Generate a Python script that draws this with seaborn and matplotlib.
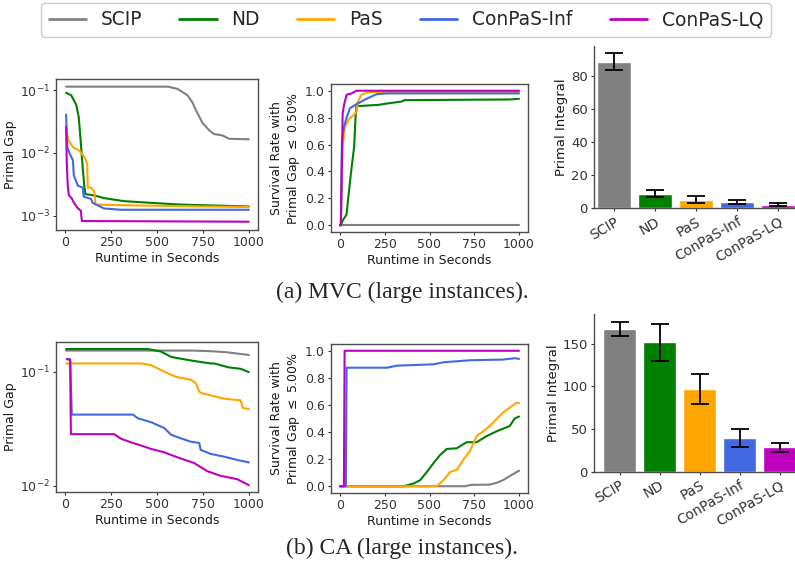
import numpy as np
import pandas as pd
import matplotlib
matplotlib.use("Agg")
import matplotlib.pyplot as plt
from matplotlib.lines import Line2D
from matplotlib.ticker import NullLocator
import seaborn as sns

# ---------------- data ----------------
METHODS = ["SCIP", "ND", "PaS", "ConPaS-Inf", "ConPaS-LQ"]
COLORS = ["#808080", "#008000", "#FFA500", "#4169E1", "#BF00BF"]

# (a) MVC primal gap
MVC_GAP_SCIP_T = [5, 560, 612, 666, 694, 712, 748, 784, 810, 857, 893, 1000]
MVC_GAP_SCIP_Y = [0.114, 0.114, 0.105, 0.083, 0.063, 0.048, 0.030, 0.023, 0.020, 0.019, 0.0168, 0.0165]
MVC_GAP_ND_T = [5, 33, 60, 74, 87, 96, 105, 110, 159, 213, 322, 467, 630, 1000]
MVC_GAP_ND_Y = [0.091, 0.083, 0.059, 0.037, 0.0124, 0.0055, 0.0028, 0.0022, 0.0021, 0.0019, 0.0017, 0.0016, 0.0015, 0.0014]
MVC_GAP_PAS_T = [5, 18, 42, 78, 105, 120, 123, 141, 159, 165, 400, 1000]
MVC_GAP_PAS_Y = [0.024, 0.016, 0.0124, 0.0108, 0.0086, 0.0068, 0.0028, 0.0028, 0.0024, 0.0015, 0.00145, 0.00137]
MVC_GAP_INF_T = [5, 11, 23, 42, 47, 69, 96, 101, 141, 150, 195, 213, 304, 1000]
MVC_GAP_INF_Y = [0.041, 0.0124, 0.0101, 0.0076, 0.0044, 0.0030, 0.0028, 0.0020, 0.00185, 0.0016, 0.00137, 0.0013, 0.00124, 0.00124]
MVC_GAP_LQ_T = [5, 9, 14, 20, 35, 48, 70, 85, 91, 1000]
MVC_GAP_LQ_Y = [0.026, 0.0065, 0.0030, 0.0021, 0.0019, 0.0016, 0.0013, 0.0012, 0.00082, 0.0008]

# (a) MVC survival rate (gap <= 0.50%)
MVC_SR_SCIP_T = [0, 1000]
MVC_SR_SCIP_Y = [0.0, 0.0]
MVC_SR_ND_T = [0, 5, 15, 37, 46, 65, 79, 87, 92, 215, 263, 347, 360, 948, 1000]
MVC_SR_ND_Y = [0.0, 0.0, 0.035, 0.08, 0.2, 0.43, 0.58, 0.80, 0.885, 0.895, 0.905, 0.92, 0.93, 0.935, 0.94]
MVC_SR_PAS_T = [0, 5, 15, 28, 50, 78, 92, 101, 120, 148, 165, 1000]
MVC_SR_PAS_Y = [0.0, 0.0, 0.58, 0.73, 0.79, 0.82, 0.84, 0.92, 0.97, 0.985, 0.99, 0.99]
MVC_SR_INF_T = [0, 5, 11, 22, 37, 56, 92, 120, 148, 207, 263, 1000]
MVC_SR_INF_Y = [0.0, 0.0, 0.63, 0.73, 0.80, 0.87, 0.90, 0.92, 0.94, 0.975, 0.98, 0.98]
MVC_SR_LQ_T = [0, 5, 15, 22, 37, 65, 92, 1000]
MVC_SR_LQ_Y = [0.0, 0.0, 0.83, 0.89, 0.97, 0.98, 1.0, 1.0]

# (a) MVC primal integral
MVC_PI_MEAN = [88.1, 8.6, 5.0, 3.8, 2.0]
MVC_PI_LOW = [83.4, 6.8, 3.0, 2.4, 1.4]
MVC_PI_HIGH = [93.5, 11.0, 7.3, 4.8, 3.0]

# (b) CA primal gap
CA_GAP_SCIP_T = [5, 700, 800, 880, 1000]
CA_GAP_SCIP_Y = [0.153, 0.153, 0.151, 0.148, 0.140]
CA_GAP_ND_T = [5, 450, 522, 576, 594, 702, 792, 810, 891, 955, 1000]
CA_GAP_ND_Y = [0.158, 0.158, 0.150, 0.135, 0.133, 0.124, 0.118, 0.118, 0.109, 0.106, 0.099]
CA_GAP_PAS_T = [5, 413, 468, 540, 603, 684, 712, 730, 740, 792, 864, 955, 968, 1000]
CA_GAP_PAS_Y = [0.118, 0.118, 0.114, 0.100, 0.090, 0.085, 0.079, 0.067, 0.065, 0.062, 0.058, 0.056, 0.048, 0.047]
CA_GAP_INF_T = [9, 27, 36, 369, 396, 468, 540, 576, 630, 684, 730, 738, 792, 864, 937, 1000]
CA_GAP_INF_Y = [0.129, 0.128, 0.042, 0.042, 0.039, 0.036, 0.032, 0.028, 0.026, 0.0243, 0.0237, 0.0206, 0.019, 0.018, 0.0168, 0.016]
CA_GAP_LQ_T = [9, 27, 31, 267, 306, 358, 413, 468, 540, 612, 702, 774, 846, 937, 1000]
CA_GAP_LQ_Y = [0.129, 0.127, 0.0283, 0.0283, 0.0257, 0.024, 0.0225, 0.021, 0.0196, 0.0177, 0.0158, 0.0134, 0.0122, 0.0114, 0.0101]

# (b) CA survival rate (gap <= 5.00%)
CA_SR_SCIP_T = [0, 700, 730, 837, 874, 911, 948, 1000]
CA_SR_SCIP_Y = [0.0, 0.0, 0.01, 0.012, 0.025, 0.045, 0.075, 0.115]
CA_SR_ND_T = [0, 356, 411, 448, 485, 522, 559, 596, 652, 707, 763, 819, 874, 948, 976, 1000]
CA_SR_ND_Y = [0.0, 0.0, 0.02, 0.045, 0.105, 0.17, 0.23, 0.275, 0.28, 0.325, 0.325, 0.37, 0.405, 0.445, 0.50, 0.515]
CA_SR_PAS_T = [0, 541, 578, 615, 652, 689, 726, 763, 800, 837, 874, 911, 948, 985, 1000]
CA_SR_PAS_Y = [0.0, 0.0, 0.045, 0.105, 0.12, 0.195, 0.26, 0.37, 0.405, 0.445, 0.495, 0.545, 0.58, 0.615, 0.615]
CA_SR_INF_T = [0, 33, 37, 263, 319, 522, 578, 726, 911, 976, 1000]
CA_SR_INF_Y = [0.0, 0.0, 0.875, 0.875, 0.89, 0.90, 0.915, 0.93, 0.935, 0.945, 0.94]
CA_SR_LQ_T = [0, 22, 26, 1000]
CA_SR_LQ_Y = [0.0, 0.0, 1.0, 1.0]

# (b) CA primal integral
CA_PI_MEAN = [167.3, 152.0, 96.8, 39.6, 29.0]
CA_PI_LOW = [159.5, 130.0, 79.5, 29.0, 22.8]
CA_PI_HIGH = [175.9, 173.5, 114.0, 49.8, 34.0]

X_TICKS = [0, 250, 500, 750, 1000]
SR_TICKS = [0.0, 0.2, 0.4, 0.6, 0.8, 1.0]

# ---------------- style ----------------
sns.set_theme(style="ticks")
plt.rcParams.update({
    "font.family": ["DejaVu Sans"],
    "font.size": 9,
    "axes.labelsize": 9,
    "xtick.labelsize": 9,
    "ytick.labelsize": 9,
    "axes.edgecolor": "0.3",
    "axes.linewidth": 1.0,
    "xtick.color": "0.2",
    "ytick.color": "0.2",
    "xtick.major.size": 2.5,
    "ytick.major.size": 2.5,
    "xtick.major.width": 0.8,
    "ytick.major.width": 0.8,
    "axes.labelcolor": "0.1",
    "axes.labelpad": 2.0,
    "xtick.major.pad": 2.0,
    "ytick.major.pad": 2.0,
})

W, H = 795, 567
fig = plt.figure(figsize=(W / 100, H / 100), dpi=100)


def px_axes(left, top, right, bottom):
    return fig.add_axes([left / W, 1 - bottom / H, (right - left) / W, (bottom - top) / H])


def draw_lines(ax, series):
    for (t, y), c in zip(series, COLORS):
        sns.lineplot(x=t, y=y, ax=ax, color=c, lw=1.5, sort=False, estimator=None)
    ax.set_xlim(-50, 1050)
    ax.set_xticks(X_TICKS)
    ax.set_xlabel("Runtime in Seconds")


def draw_bars(ax, mean, low, high, xlim, yticks):
    df = pd.DataFrame({"method": METHODS, "value": mean})
    sns.barplot(data=df, x="method", y="value", hue="method", palette=COLORS,
                saturation=1, width=0.82, legend=False, ax=ax, errorbar=None)
    m = np.array(mean)
    yerr = [m - np.array(low), np.array(high) - m]
    ax.errorbar(np.arange(len(METHODS)), m, yerr=yerr, fmt="none", ecolor="black",
                elinewidth=1.3, capsize=6.5, capthick=1.3)
    ax.set_xlim(*xlim)
    ax.set_ylim(0, max(high) * 1.05)
    ax.set_yticks(yticks)
    ax.set_xlabel("")
    ax.set_ylabel("Primal Integral", fontsize=9.5)
    ax.tick_params(axis="y", labelsize=9.5)
    ax.tick_params(axis="x", labelrotation=30, labelsize=10)
    for lab in ax.get_xticklabels():
        lab.set_ha("right")
        lab.set_rotation_mode("anchor")
    sns.despine(ax=ax)


# ---- (a) MVC ----
ax1 = px_axes(56, 79, 258, 230)
draw_lines(ax1, [(MVC_GAP_SCIP_T, MVC_GAP_SCIP_Y), (MVC_GAP_ND_T, MVC_GAP_ND_Y),
                 (MVC_GAP_PAS_T, MVC_GAP_PAS_Y), (MVC_GAP_INF_T, MVC_GAP_INF_Y),
                 (MVC_GAP_LQ_T, MVC_GAP_LQ_Y)])
ax1.set_yscale("log")
ax1.set_ylim(0.00059, 0.151)
ax1.yaxis.set_minor_locator(NullLocator())
ax1.set_ylabel("Primal Gap")

ax2 = px_axes(331, 84, 528, 232)
draw_lines(ax2, [(MVC_SR_SCIP_T, MVC_SR_SCIP_Y), (MVC_SR_ND_T, MVC_SR_ND_Y),
                 (MVC_SR_PAS_T, MVC_SR_PAS_Y), (MVC_SR_INF_T, MVC_SR_INF_Y),
                 (MVC_SR_LQ_T, MVC_SR_LQ_Y)])
ax2.set_ylim(-0.05, 1.05)
ax2.set_yticks(SR_TICKS)
ax2.set_ylabel("Survival Rate with\nPrimal Gap $\\leq$ 0.50%")

ax3 = px_axes(594, 45.5, 798.6, 208.3)
draw_bars(ax3, MVC_PI_MEAN, MVC_PI_LOW, MVC_PI_HIGH, (-0.49, 4.5), [0, 20, 40, 60, 80])

# ---- (b) CA ----
ax4 = px_axes(56, 342, 258, 492)
draw_lines(ax4, [(CA_GAP_SCIP_T, CA_GAP_SCIP_Y), (CA_GAP_ND_T, CA_GAP_ND_Y),
                 (CA_GAP_PAS_T, CA_GAP_PAS_Y), (CA_GAP_INF_T, CA_GAP_INF_Y),
                 (CA_GAP_LQ_T, CA_GAP_LQ_Y)])
ax4.set_yscale("log")
ax4.set_ylim(0.0088, 0.182)
ax4.yaxis.set_minor_locator(NullLocator())
ax4.set_ylabel("Primal Gap")

ax5 = px_axes(331, 344, 528, 493)
draw_lines(ax5, [(CA_SR_SCIP_T, CA_SR_SCIP_Y), (CA_SR_ND_T, CA_SR_ND_Y),
                 (CA_SR_PAS_T, CA_SR_PAS_Y), (CA_SR_INF_T, CA_SR_INF_Y),
                 (CA_SR_LQ_T, CA_SR_LQ_Y)])
ax5.set_ylim(-0.05, 1.05)
ax5.set_yticks(SR_TICKS)
ax5.set_ylabel("Survival Rate with\nPrimal Gap $\\leq$ 5.00%")

ax6 = px_axes(594, 314, 799.6, 471.7)
draw_bars(ax6, CA_PI_MEAN, CA_PI_LOW, CA_PI_HIGH, (-0.64, 4.5), [0, 50, 100, 150])

# ---- legend & captions ----
handles = [Line2D([0], [0], color=c, lw=2) for c in COLORS]
fig.legend(handles, METHODS, loc="upper center", ncol=5, fontsize=13.4,
           bbox_to_anchor=(406 / W, 1 - 3 / H), borderaxespad=0, frameon=True,
           fancybox=True, edgecolor="0.8", framealpha=1)

fig.text(402 / W, 1 - 292 / H, "(a) MVC (large instances).", ha="center", va="center",
         family=["Liberation Serif", "DejaVu Serif"], fontsize=17)
fig.text(402 / W, 1 - 548 / H, "(b) CA (large instances).", ha="center", va="center",
         family=["Liberation Serif", "DejaVu Serif"], fontsize=17)

fig.savefig("out.png", dpi=100)
